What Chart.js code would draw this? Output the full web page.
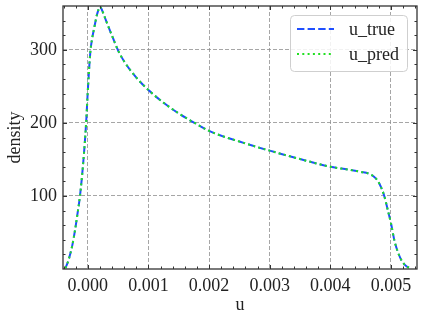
<!DOCTYPE html>
<html>
<head>
<meta charset="utf-8">
<title>density</title>
<script src="https://cdn.jsdelivr.net/npm/chart.js@4/dist/chart.umd.min.js"></script>
<style>
    html, body { margin: 0; padding: 0; background: #fff; }
    #wrap { width: 423px; height: 322px; }
</style>
</head>
<body>
<div id="wrap"><canvas id="density-chart" width="423" height="322"></canvas></div>
<script>
const uValues = [
    -0.00037, -0.00032, -0.00026, -0.00021, -0.00017, -0.00013, -0.00008, -0.00003,
    0.00000, 0.00004, 0.00007, 0.00010, 0.00015, 0.00018, 0.00020, 0.00022, 0.00025,
    0.00030, 0.00040, 0.00050, 0.00060, 0.00080, 0.00100, 0.00125, 0.00150,
    0.00175, 0.00200, 0.00225, 0.00250, 0.00275, 0.00300, 0.00350, 0.00400,
    0.00430, 0.00450, 0.00465, 0.00475, 0.00482, 0.00489, 0.00495, 0.00500,
    0.00506, 0.00512, 0.00518, 0.00525, 0.00533
];
const uTrue = [
    1, 12, 31, 54, 76, 100, 142, 198,
    245, 296, 315, 328, 348, 356, 359, 357, 351,
    340, 319, 299, 284, 262, 245, 227.5, 213,
    200.5, 189, 181, 174.5, 168, 162, 150.5, 140,
    136, 133, 130, 124, 115, 100, 80, 63,
    38, 22, 11, 4, 1
];
const uPred = [
    1, 12, 31, 54, 76, 100, 142, 198,
    245, 296, 315, 328, 348, 356, 359, 357, 351,
    340, 319, 299, 284, 262, 245, 227.5, 213,
    200.5, 189, 181, 174.5, 168, 162, 150.5, 140,
    136, 133, 130, 124, 115, 100, 80, 63,
    38, 22, 11, 4, 1
];
const xTicks = [0, 0.001, 0.002, 0.003, 0.004, 0.005];
const yTicks = [100, 200, 300];

const FONT = '"Liberation Serif", "DejaVu Serif", serif';
const INK = '#222';

const toPoints = (ys) => uValues.map((u, i) => ({ x: u, y: ys[i] }));

// inward ticks on all four sides plus the frame, like the matplotlib style
const framePlugin = {
    id: 'frame',
    afterDatasetsDraw(chart) {
        const { ctx, chartArea: a, scales: { x, y } } = chart;
        ctx.save();
        ctx.strokeStyle = '#333';
        ctx.lineWidth = 1;
        const tick = (px, py, dx, dy) => {
            ctx.beginPath();
            ctx.moveTo(px, py);
            ctx.lineTo(px + dx, py + dy);
            ctx.stroke();
        };
        for (let v = -0.0004; v <= 0.00541; v += 0.0002) {
            const px = Math.round(x.getPixelForValue(v)) + 0.5;
            if (px < a.left || px > a.right) continue;
            const major = Math.abs(v / 0.001 - Math.round(v / 0.001)) < 1e-6;
            const len = major ? 4 : 2.5;
            tick(px, a.bottom, 0, -len);
            tick(px, a.top, 0, len);
        }
        for (let v = 20; v < 360; v += 20) {
            const py = Math.round(y.getPixelForValue(v)) + 0.5;
            const len = v % 100 === 0 ? 4 : 2.5;
            tick(a.left, py, len, 0);
            tick(a.right, py, -len, 0);
        }
        ctx.lineWidth = 1.3;
        ctx.strokeRect(a.left, a.top, a.right - a.left, a.bottom - a.top);
        ctx.restore();
    }
};

const legendPlugin = {
    id: 'boxLegend',
    afterDraw(chart) {
        const { ctx } = chart;
        const bx = 290, by = 15, bw = 117, bh = 56;
        ctx.save();
        ctx.beginPath();
        ctx.roundRect(bx + 0.5, by + 0.5, bw, bh, 4);
        ctx.fillStyle = 'rgba(255,255,255,0.85)';
        ctx.fill();
        ctx.strokeStyle = '#cfcfcf';
        ctx.lineWidth = 1;
        ctx.stroke();

        const rows = [29, 54];
        chart.data.datasets.forEach((ds, i) => {
            ctx.beginPath();
            ctx.setLineDash(ds.borderDash);
            ctx.strokeStyle = ds.borderColor;
            ctx.lineWidth = ds.borderWidth;
            ctx.moveTo(297, rows[i]);
            ctx.lineTo(334, rows[i]);
            ctx.stroke();
            ctx.setLineDash([]);
            ctx.fillStyle = INK;
            ctx.font = '18px ' + FONT;
            ctx.textAlign = 'left';
            ctx.textBaseline = 'middle';
            ctx.fillText(ds.label, 349, rows[i] + 1);
        });
        ctx.restore();
    }
};

new Chart(document.getElementById('density-chart'), {
    type: 'line',
    data: {
        datasets: [
            {
                label: 'u_true',
                data: toPoints(uTrue),
                borderColor: '#1f4fff',
                borderWidth: 2,
                borderDash: [7.4, 3.2],
                pointRadius: 0,
                cubicInterpolationMode: 'monotone',
                fill: false,
                order: 2
            },
            {
                label: 'u_pred',
                data: toPoints(uPred),
                borderColor: '#22e022',
                borderWidth: 2,
                borderDash: [2, 3.3],
                pointRadius: 0,
                cubicInterpolationMode: 'monotone',
                fill: false,
                order: 1
            }
        ]
    },
    options: {
        responsive: false,
        animation: false,
        layout: { padding: { top: 6, right: 6, left: 0, bottom: 0 } },
        plugins: {
            legend: { display: false },
            tooltip: { enabled: false }
        },
        scales: {
            x: {
                type: 'linear',
                min: -0.00041,
                max: 0.00543,
                afterBuildTicks: (s) => { s.ticks = xTicks.map(v => ({ value: v })); },
                afterFit: (s) => { s.height = 53; s.paddingLeft = 0; s.paddingRight = 0; },
                ticks: {
                    padding: 6,
                    color: INK,
                    font: { family: FONT, size: 18 },
                    maxRotation: 0,
                    callback: (v) => v.toFixed(3)
                },
                grid: { color: '#8f8f8f', lineWidth: 0.8, drawTicks: false },
                border: { display: false, dash: [4, 2] },
                title: {
                    display: true,
                    text: 'u',
                    color: INK,
                    font: { family: FONT, size: 18 },
                    padding: { top: 0, bottom: 6 }
                }
            },
            y: {
                min: 0,
                max: 360,
                afterBuildTicks: (s) => { s.ticks = yTicks.map(v => ({ value: v })); },
                afterFit: (s) => { s.width = 63; s.paddingTop = 0; s.paddingBottom = 0; },
                ticks: {
                    padding: 6,
                    color: INK,
                    font: { family: FONT, size: 18 },
                    callback: (v) => String(v)
                },
                grid: { color: '#8f8f8f', lineWidth: 0.8, drawTicks: false },
                border: { display: false, dash: [4, 2] },
                title: {
                    display: true,
                    text: 'density',
                    color: INK,
                    font: { family: FONT, size: 18 },
                    padding: { top: 4, bottom: 0 }
                }
            }
        }
    },
    plugins: [framePlugin, legendPlugin]
});
</script>
</body>
</html>
